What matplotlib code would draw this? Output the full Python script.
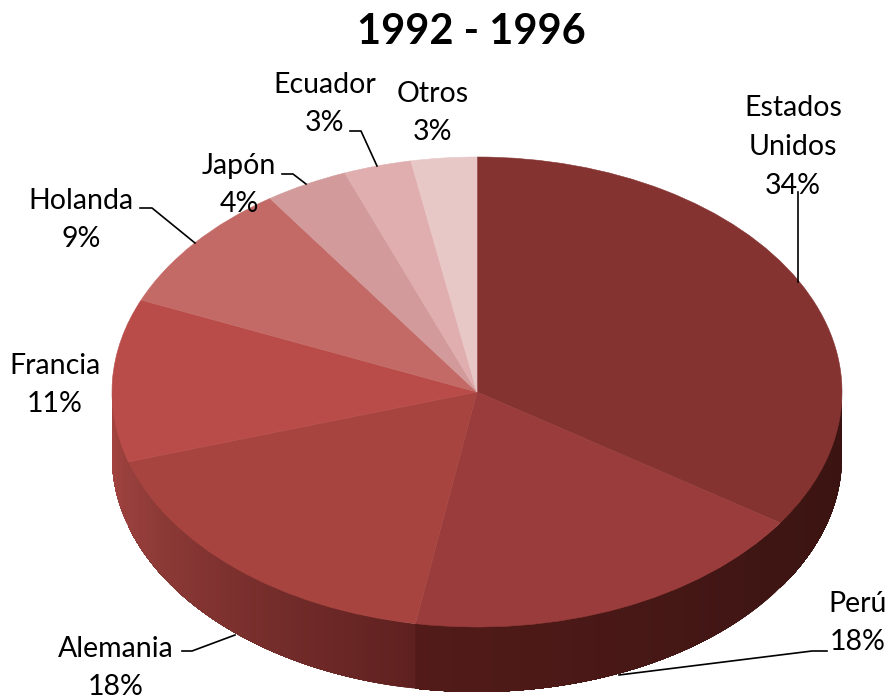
import numpy as np
import matplotlib
matplotlib.use('Agg')
from matplotlib import pyplot as plt
from matplotlib.colors import to_rgb

plt.rcParams['font.family'] = ['Lato', 'DejaVu Sans']

paises = ['Estados\nUnidos', 'Perú', 'Alemania', 'Francia', 'Holanda', 'Japón', 'Ecuador', 'Otros']
# slice sizes, the printed labels are rounded
valores = [34.4, 18.3, 17.5, 11.2, 9.0, 3.7, 3.0, 2.9]
etiquetas = ['34%', '18%', '18%', '11%', '9%', '4%', '3%', '3%']
colores = ['#843331', '#993c3b', '#a8443f', '#b94c48', '#c46a66', '#d29a9a', '#e0aeae', '#e8c8c7']
# wall shade at the start and end of each visible slice
pared = {0: ('#3a1311', '#3e1513'), 1: ('#3e1513', '#521b19'), 2: ('#5f2120', '#98403c'), 3: ('#98403c', '#a8433f')}

W, H = 894, 700
cx, cy, rx, ry, prof = 477, 392, 365, 235, 65

fig = plt.figure(figsize=(W / 100, H / 100), dpi=100)
ax = fig.add_axes([0, 0, 1, 1])

def fx(px):
    return px / W

def fy(py):
    return 1 - py / H

# walls, clockwise angle from the top
bordes = np.cumsum([0] + valores) * 3.6
dz = prof / ry
for i, (c0, c1) in pared.items():
    a0, a1 = max(bordes[i], 90), min(bordes[i + 1], 270)
    t = np.radians(np.linspace(a0, a1, 61))
    c0, c1 = np.array(to_rgb(c0)), np.array(to_rgb(c1))
    for j in range(60):
        # each strip runs to the end of the slice so no seams show
        xs = np.sin(t[j:])
        ys = np.cos(t[j:])
        col = c0 + (c1 - c0) * j / 59
        ax.fill(np.r_[xs, xs[::-1]], np.r_[ys, ys[::-1] - dz], color=col, lw=0, zorder=1)

wedges, _ = ax.pie(valores, colors=colores, startangle=90, counterclock=False, radius=1)
for w in wedges:
    w.set_zorder(2)
    w.set_edgecolor(w.get_facecolor())
    w.set_linewidth(0.4)

ax.set_aspect('auto')
ax.set_xlim(-cx / rx, (W - cx) / rx)
ax.set_ylim(-(H - cy) / ry, cy / ry)
ax.axis('off')

fig.text(fx(471), fy(32), '1992 - 1996', fontsize=30, fontweight='bold', ha='center', va='center', color='black')

pos_etiq = [(793, 147), (858, 623), (116, 668), (55, 385), (81, 220), (239, 185), (325, 104), (433, 113)]
for nombre, e, (x, y) in zip(paises, etiquetas, pos_etiq):
    fig.text(fx(x), fy(y), f'{nombre}\n{e}', fontsize=20.5, ha='center', va='center',
             linespacing=1.6, color='black')

guias = [
    [(798, 192), (798, 282)],
    [(827, 651), (812, 651), (619, 675)],
    [(182, 651), (192, 651), (235, 635)],
    [(140, 208), (152, 208), (195, 243)],
    [(282, 174), (293, 174), (306, 184)],
    [(350, 131), (361, 131), (377, 166)],
]
for g in guias:
    g = np.array(g, dtype=float)
    fig.add_artist(plt.Line2D(fx(g[:, 0]), fy(g[:, 1]), color='black', lw=1.2, zorder=5))

fig.savefig('out.png', dpi=100)
